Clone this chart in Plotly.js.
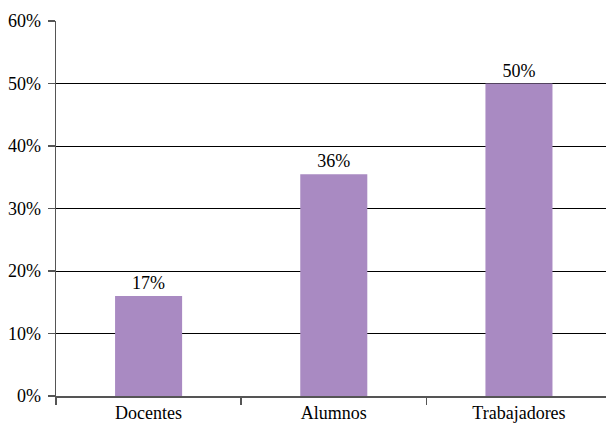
<!DOCTYPE html>
<html>
<head>
<meta charset="utf-8">
<script src="https://cdn.plot.ly/plotly-3.0.1.min.js"></script>
<style>html,body{margin:0;padding:0;background:#fff;overflow:hidden}</style>
</head>
<body>
<div id="chart" style="width:606px;height:426px"></div>
<script>
const categories = ["Docentes", "Alumnos", "Trabajadores"];
const values = [16, 35.5, 50];
const labels = ["17%", "36%", "50%"];
const yTickVals = [0, 10, 20, 30, 40, 50, 60];
const yTickText = ["0%", "10%", "20%", "30%", "40%", "50%", "60%"];

const fontFamily = "Times New Roman";
function mkFont() { return {family: fontFamily, size: 18, color: "#000"}; }

Plotly.newPlot("chart", [{
  type: "bar",
  x: categories,
  y: values,
  text: labels,
  textposition: "outside",
  textfont: mkFont(),
  cliponaxis: false,
  marker: {color: "#A98AC2"},
  hoverinfo: "none"
}], {
  width: 606,
  height: 426,
  margin: {l: 56, r: 0, t: 21, b: 30},
  paper_bgcolor: "#fff",
  plot_bgcolor: "#fff",
  bargap: 0.638,
  showlegend: false,
  font: mkFont(),
  xaxis: {
    type: "category",
    range: [-0.5, 2.47],
    showline: true,
    linecolor: "#555",
    linewidth: 1.5,
    ticks: "outside",
    tickson: "boundaries",
    ticklen: 7,
    tickcolor: "#555",
    tickwidth: 1.5,
    showgrid: false,
    tickfont: mkFont(),
    ticklabelstandoff: 0
  },
  yaxis: {
    range: [0, 60],
    tickvals: yTickVals,
    ticktext: yTickText,
    showline: true,
    linecolor: "#555",
    linewidth: 1.5,
    ticks: "outside",
    ticklen: 7,
    tickcolor: "#555",
    tickwidth: 1.5,
    showgrid: true,
    gridcolor: "#000",
    gridwidth: 1,
    zeroline: false,
    tickfont: mkFont(),
    ticklabelstandoff: 3
  }
}, {staticPlot: true});
</script>
</body>
</html>
